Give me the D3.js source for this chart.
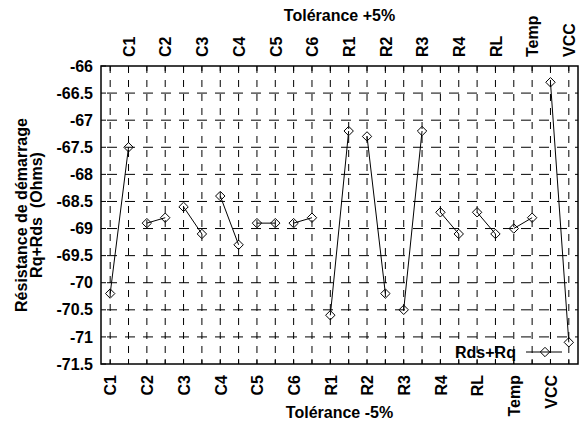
<!DOCTYPE html>
<html lang="fr">
<head>
  <meta charset="UTF-8">
  <title>Résistance de démarrage</title>
  <script src="https://d3js.org/d3.v7.min.js"></script>
  <style>
    body { margin: 0; background: #fff; }
    text { font-family: "Liberation Sans", Arial, sans-serif; font-weight: bold; font-size: 16px; fill: #000; }
  </style>
</head>
<body>
  <svg id="chart" width="581" height="430"></svg>
  <script>
    // data
    const categories = ['C1', 'C2', 'C3', 'C4', 'C5', 'C6', 'R1', 'R2', 'R3', 'R4', 'RL', 'Temp', 'VCC'];
    const minus5 = [-70.2, -68.9, -68.6, -68.4, -68.9, -68.9, -70.6, -67.3, -70.5, -68.7, -68.7, -69.0, -66.3]; // Tolérance -5%
    const plus5 = [-67.5, -68.8, -69.1, -69.3, -68.9, -68.8, -67.2, -70.2, -67.2, -69.1, -69.1, -68.8, -71.1];  // Tolérance +5%
    const yTicks = [-66, -66.5, -67, -67.5, -68, -68.5, -69, -69.5, -70, -70.5, -71, -71.5];
    const seriesName = 'Rds+Rq';

    const svg = d3.select('svg#chart');
    const margins = { top: 66, right: 3, bottom: 66, left: 101 };
    const width = +svg.attr('width');
    const height = +svg.attr('height');
    const chartWidth = width - margins.left - margins.right;
    const chartHeight = height - margins.top - margins.bottom;

    // one slot per measurement: -5% then +5% for each category
    const slots = [];
    categories.forEach((c, i) => {
      slots.push({ key: c + '-', cat: c, value: minus5[i], side: 'minus' });
      slots.push({ key: c + '+', cat: c, value: plus5[i], side: 'plus' });
    });

    const x = d3.scalePoint().domain(slots.map(d => d.key)).range([0, chartWidth]).padding(0.5);
    const y = d3.scaleLinear().domain([-71.5, -66]).range([chartHeight, 0]);

    const chartArea = svg.append('g')
      .attr('transform', `translate(${margins.left},${margins.top})`);

    // dashed grid
    chartArea.append('g').selectAll('line')
      .data(yTicks.filter(t => t !== -66 && t !== -71.5))
      .join('line')
      .attr('x1', 0).attr('x2', chartWidth)
      .attr('y1', d => y(d)).attr('y2', d => y(d))
      .attr('stroke', '#000').attr('stroke-width', 1)
      .attr('stroke-dasharray', '10,8').attr('stroke-dashoffset', -6);

    chartArea.append('g').selectAll('line')
      .data(slots)
      .join('line')
      .attr('x1', d => x(d.key)).attr('x2', d => x(d.key))
      .attr('y1', 0).attr('y2', chartHeight)
      .attr('stroke', '#000').attr('stroke-width', 1)
      .attr('stroke-dasharray', '7,7');

    // small inward ticks on the frame
    const ticks = chartArea.append('g').attr('stroke', '#000').attr('stroke-width', 1);
    slots.forEach(d => {
      ticks.append('line').attr('x1', x(d.key)).attr('x2', x(d.key)).attr('y1', 0).attr('y2', 5);
      ticks.append('line').attr('x1', x(d.key)).attr('x2', x(d.key)).attr('y1', chartHeight).attr('y2', chartHeight - 5);
    });
    yTicks.forEach(t => {
      ticks.append('line').attr('x1', 0).attr('x2', 5).attr('y1', y(t)).attr('y2', y(t));
    });

    // frame
    chartArea.append('rect')
      .attr('width', chartWidth).attr('height', chartHeight)
      .attr('fill', 'none').attr('stroke', '#000').attr('stroke-width', 1.5);

    // y axis labels
    const yAxis = chartArea.append('g')
      .call(d3.axisLeft(y).tickValues(yTicks).tickSize(0).tickPadding(8).tickFormat(d => String(d)));
    yAxis.select('.domain').remove();
    yAxis.selectAll('text').attr('font-size', null).attr('font-family', null);

    // top axis: +5% labels
    const topAxis = chartArea.append('g')
      .call(d3.axisTop(x).tickValues(slots.filter(d => d.side === 'plus').map(d => d.key))
        .tickSize(0).tickFormat(k => k.slice(0, -1)));
    topAxis.select('.domain').remove();
    topAxis.selectAll('text')
      .attr('font-size', null).attr('font-family', null)
      .attr('transform', 'rotate(-90)')
      .attr('x', 9).attr('y', 0).attr('dy', '0.36em')
      .style('text-anchor', 'start');

    // bottom axis: -5% labels
    const bottomAxis = chartArea.append('g')
      .attr('transform', `translate(0,${chartHeight})`)
      .call(d3.axisBottom(x).tickValues(slots.filter(d => d.side === 'minus').map(d => d.key))
        .tickSize(0).tickFormat(k => k.slice(0, -1)));
    bottomAxis.select('.domain').remove();
    bottomAxis.selectAll('text')
      .attr('font-size', null).attr('font-family', null)
      .attr('transform', 'rotate(-90)')
      .attr('x', -11).attr('y', 0).attr('dy', '0.36em')
      .style('text-anchor', 'end');

    // series: each category joins its -5% and +5% points
    const line = d3.line().x(d => x(d.key)).y(d => y(d.value));
    categories.forEach(c => {
      chartArea.append('path')
        .datum(slots.filter(d => d.cat === c))
        .attr('d', line)
        .attr('fill', 'none').attr('stroke', '#000').attr('stroke-width', 1);
    });

    const diamond = 'M0,-4.7L4.7,0L0,4.7L-4.7,0Z';
    chartArea.append('g').selectAll('path')
      .data(slots)
      .join('path')
      .attr('d', diamond)
      .attr('transform', d => `translate(${x(d.key)},${y(d.value)})`)
      .attr('fill', 'none').attr('stroke', '#000').attr('stroke-width', 1);

    // titles
    svg.append('text').attr('x', margins.left + chartWidth / 2).attr('y', 21)
      .attr('text-anchor', 'middle').text('Tolérance +5%');
    svg.append('text').attr('x', margins.left + chartWidth / 2).attr('y', 418)
      .attr('text-anchor', 'middle').text('Tolérance -5%');

    const yTitle = svg.append('g')
      .attr('transform', `translate(0,${margins.top + chartHeight / 2}) rotate(-90)`);
    yTitle.append('text').attr('x', 0).attr('y', 26.5).attr('text-anchor', 'middle').text('Résistance de démarrage');
    yTitle.append('text').attr('x', 0).attr('y', 42).attr('text-anchor', 'middle')
      .attr('xml:space', 'preserve').style('white-space', 'pre').text('Rq+Rds  (Ohms)');

    // legend
    const legend = svg.append('g').attr('transform', 'translate(455,352)');
    legend.append('text').attr('x', 0).attr('y', 5.5).text(seriesName);
    legend.append('line').attr('x1', 71).attr('x2', 107).attr('y1', 0).attr('y2', 0)
      .attr('stroke', '#000').attr('stroke-width', 1);
    legend.append('path').attr('d', diamond).attr('transform', 'translate(90,0)')
      .attr('fill', 'none').attr('stroke', '#000').attr('stroke-width', 1);
  </script>
</body>
</html>
